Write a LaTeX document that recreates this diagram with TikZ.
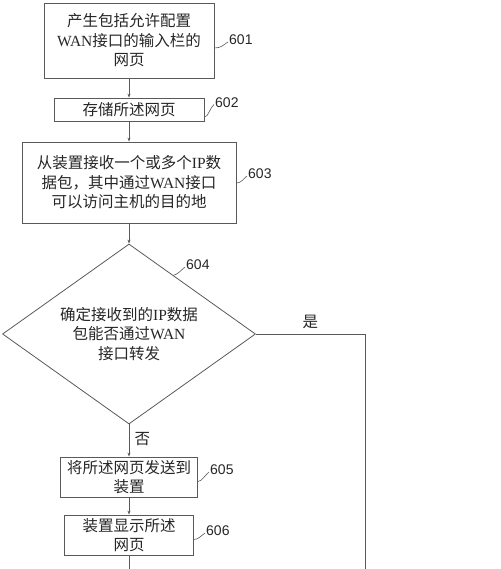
\documentclass[tikz,border=0pt]{standalone}
\usepackage{fontspec}
\setmainfont{Liberation Serif}
\newfontfamily\cjk{Noto Sans CJK SC}
\newfontfamily\numfont{Liberation Sans}
\usepackage{tikz}
\usetikzlibrary{arrows.meta,shapes.geometric,calc}
\colorlet{linec}{black!65}
\colorlet{textc}{black!85}
\newcommand{\lat}[1]{{\rmfamily #1}}

\begin{document}
\begin{tikzpicture}[x=1pt,y=-1pt,
		box/.style={draw=linec,line width=0.8pt,inner sep=0pt,align=center,text=textc,
			font=\cjk\fontsize{15.5}{19.5}\selectfont},
		decision/.style={box,diamond,aspect=1.41},
		num/.style={font=\numfont\fontsize{14}{16}\selectfont,inner sep=0pt,text=textc,anchor=west},
		tag/.style={draw=linec,line width=0.6pt},
		flow/.style={draw=linec,line width=0.8pt,-{Stealth[length=4pt,width=3pt]}},
		line/.style={draw=linec,line width=0.8pt}]
		\useasboundingbox (0,0) rectangle (500,569);
		
		% steps
		\node[box,minimum width=170pt,minimum height=75pt] (b601) at (129,40.5)
		{产生包括允许配置\\\lat{WAN}接口的输入栏的\\网页};
		\node[box,minimum width=150pt,minimum height=23pt] (b602) at (129,109.5)
		{存储所述网页};
		\node[box,minimum width=214pt,minimum height=81pt] (b603) at (129,182.5)
		{从装置接收一个或多个\lat{IP}数\\据包，其中通过\lat{WAN}接口\\可以访问主机的目的地};
		\node[decision,minimum width=253pt,minimum height=180pt] (d604) at (129,334)
		{确定接收到的\lat{IP}数据\\包能否通过\lat{WAN}\\接口转发};
		\node[box,minimum width=137pt,minimum height=40pt] (b605) at (129,477)
		{将所述网页发送到\\装置};
		\node[box,minimum width=129pt,minimum height=40pt] (b606) at (129,535)
		{装置显示所述\\网页};
		
		% reference numerals
		\node[num] (l601) at (229,40) {601};
		\node[num] (l602) at (215,102.5) {602};
		\node[num] (l603) at (248,174) {603};
		\node[num] (l604) at (186,265) {604};
		\node[num] (l605) at (210,470) {605};
		\node[num] (l606) at (206,531) {606};
		
		\draw[tag] ([yshift=-7.5pt]b601.east) .. controls +(7,0) and +(-5,3) .. ([xshift=-1pt,yshift=-2pt]l601.west);
		\draw[tag] ([yshift=-7.5pt]b602.east) .. controls +(4,0) and +(-4,3) .. ([xshift=-1pt,yshift=-2pt]l602.west);
		\draw[tag] ([yshift=-0.5pt]b603.east) .. controls +(5,0) and +(-4,3) .. ([xshift=-1pt,yshift=-2pt]l603.west);
		\draw[tag] ($(d604.north)!0.35!(d604.east)$) .. controls +(5,-1) and +(-4,3) .. ([xshift=-1pt,yshift=-2pt]l604.west);
		\draw[tag] ([yshift=-4.5pt]b605.east) .. controls +(4,0) and +(-4,3) .. ([xshift=-1pt,yshift=-2pt]l605.west);
		\draw[tag] ([yshift=-4.5pt]b606.east) .. controls +(4,0) and +(-4,3) .. ([xshift=-1pt,yshift=-2pt]l606.west);
		
		% connectors
		\coordinate (out1) at (129,572);
		\coordinate (out2) at (365,572);
		\draw[flow] (b601) -- (b602);
		\draw[flow] (b602) -- (b603);
		\draw[flow] (b603) -- (d604);
		\draw[flow] (d604) -- node[pos=0.45,right=2pt,text=textc,font=\cjk\fontsize{15.5}{18}\selectfont] {否} (b605);
		\draw[flow] (b605) -- (b606);
		\draw[line] (b606) -- (out1);
		\draw[line] (d604.east) -| node[pos=0.25,above=2pt,text=textc,font=\cjk\fontsize{15.5}{18}\selectfont] {是} (out2);
\end{tikzpicture}
\end{document}
